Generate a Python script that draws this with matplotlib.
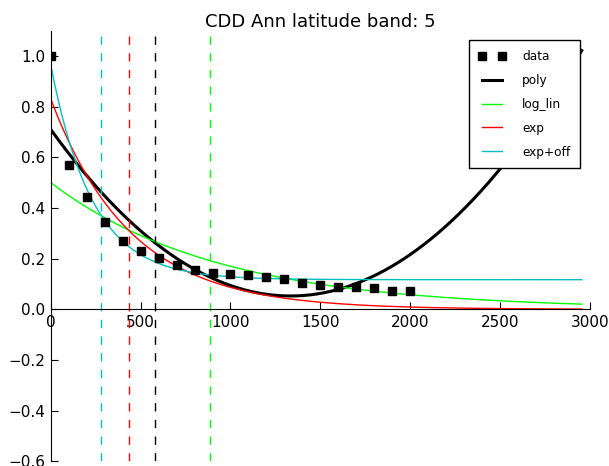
import numpy as np
import matplotlib
matplotlib.use('Agg')
import matplotlib.pyplot as plt

# ---- data ----
data_x = [0, 100, 200, 300, 400, 500, 600, 700, 800, 900, 1000,
          1100, 1200, 1300, 1400, 1500, 1600, 1700, 1800, 1900, 2000]
data_y = [1.0, 0.57, 0.445, 0.343, 0.271, 0.231, 0.201, 0.175, 0.157, 0.143, 0.14,
          0.135, 0.129, 0.12, 0.105, 0.095, 0.089, 0.088, 0.085, 0.071, 0.071]

# fitted-model parameters
poly_coef = [0.369e-6, -0.985e-3, 0.71]      # quadratic, highest power first
loglin_params = [0.5, 0.00108]               # A, k  : A*exp(-k x)
exp_params = [0.83, 0.00226]                 # A, k  : A*exp(-k x)
expoff_params = [0.847, 0.0043, 0.117]       # A, k, C : A*exp(-k x) + C
fit_range = [0, 2955]

vline_x = [278, 434, 581, 886]
vline_colors = ['#00bfbf', '#ff0000', '#000000', '#00ff00']

title = 'CDD Ann latitude band: 5'
x_ticks = [0, 500, 1000, 1500, 2000, 2500, 3000]
y_ticks = [-0.6, -0.4, -0.2, 0.0, 0.2, 0.4, 0.6, 0.8, 1.0]

# ---- figure ----
fig = plt.figure(figsize=(6.09, 4.66), dpi=100)
ax = fig.add_axes([50.8 / 609, 4.7 / 466, (589.8 - 50.8) / 609, (461.3 - 30.7) / 466])

xf = np.linspace(fit_range[0], fit_range[1], 400)
ax.plot(data_x, data_y, 's', color='k', markersize=6, label='data', zorder=5)
ax.plot(xf, np.polyval(poly_coef, xf), color='k', lw=2.2, label='poly')
ax.plot(xf, loglin_params[0] * np.exp(-loglin_params[1] * xf), color='#00ff00', lw=1.0, label='log_lin')
ax.plot(xf, exp_params[0] * np.exp(-exp_params[1] * xf), color='#ff0000', lw=1.0, label='exp')
ax.plot(xf, expoff_params[0] * np.exp(-expoff_params[1] * xf) + expoff_params[2],
        color='#00bfbf', lw=1.0, label='exp+off')

for xv, c in zip(vline_x, vline_colors):
    ax.axvline(xv, color=c, ls=(0, (6, 6)), lw=1.0)

ax.set_xlim(0, 3000)
ax.set_ylim(-0.6, 1.1)
ax.set_xticks(x_ticks)
ax.set_yticks(y_ticks)

ax.spines['left'].set_position(('data', 0))
ax.spines['bottom'].set_position(('data', 0))
ax.spines['top'].set_visible(False)
ax.spines['right'].set_visible(False)
ax.xaxis.set_ticks_position('bottom')
ax.yaxis.set_ticks_position('left')
ax.tick_params(direction='in', length=5, width=0.8, labelsize=11, pad=4)

ax.set_title(title, fontsize=13, pad=3)

leg = ax.legend(loc='upper right', numpoints=2, fontsize=8.7, fancybox=False,
                framealpha=1, edgecolor='k', borderaxespad=0.8,
                labelspacing=0.9, handlelength=2.2, handletextpad=1.4, borderpad=0.8)
leg.get_frame().set_linewidth(1.0)

fig.savefig('out.png', dpi=100, facecolor='white')
